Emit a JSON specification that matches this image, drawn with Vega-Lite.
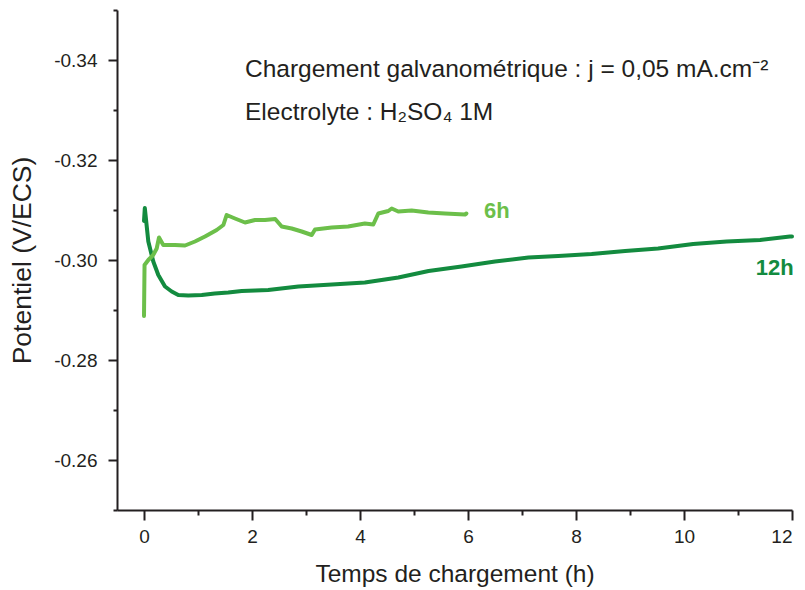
{
  "$schema": "https://vega.github.io/schema/vega-lite/v6.json",
  "width": 675,
  "height": 500,
  "autosize": {"type": "none"},
  "padding": {"left": 117, "top": 10, "right": 13, "bottom": 80},
  "background": "white",
  "config": {
    "view": {"stroke": null},
    "font": "Liberation Sans",
    "axis": {
      "grid": false,
      "domainColor": "#231f20",
      "domainWidth": 2,
      "tickColor": "#231f20",
      "tickWidth": 2,
      "labelFont": "Liberation Sans",
      "labelColor": "#231f20",
      "titleFont": "Liberation Sans",
      "titleFontWeight": "normal",
      "titleColor": "#231f20"
    }
  },
  "datasets": {
    "curves": [
      {"serie": "12h", "t": 0, "v": -0.3078},
      {"serie": "12h", "t": 0.015, "v": -0.3104},
      {"serie": "12h", "t": 0.08, "v": -0.3037},
      {"serie": "12h", "t": 0.172, "v": -0.2997},
      {"serie": "12h", "t": 0.265, "v": -0.297},
      {"serie": "12h", "t": 0.389, "v": -0.2947},
      {"serie": "12h", "t": 0.513, "v": -0.2937},
      {"serie": "12h", "t": 0.635, "v": -0.293},
      {"serie": "12h", "t": 0.82, "v": -0.2929},
      {"serie": "12h", "t": 1.07, "v": -0.293},
      {"serie": "12h", "t": 1.31, "v": -0.2933},
      {"serie": "12h", "t": 1.56, "v": -0.2935},
      {"serie": "12h", "t": 1.81, "v": -0.2938},
      {"serie": "12h", "t": 2.06, "v": -0.2939},
      {"serie": "12h", "t": 2.3, "v": -0.294},
      {"serie": "12h", "t": 2.86, "v": -0.2947},
      {"serie": "12h", "t": 3.48, "v": -0.2951},
      {"serie": "12h", "t": 4.09, "v": -0.2955},
      {"serie": "12h", "t": 4.71, "v": -0.2965},
      {"serie": "12h", "t": 5.27, "v": -0.2978},
      {"serie": "12h", "t": 5.88, "v": -0.2987},
      {"serie": "12h", "t": 6.5, "v": -0.2997},
      {"serie": "12h", "t": 7.12, "v": -0.3005},
      {"serie": "12h", "t": 7.67, "v": -0.3008},
      {"serie": "12h", "t": 8.29, "v": -0.3012},
      {"serie": "12h", "t": 8.91, "v": -0.3018},
      {"serie": "12h", "t": 9.52, "v": -0.3023},
      {"serie": "12h", "t": 10.17, "v": -0.3032},
      {"serie": "12h", "t": 10.79, "v": -0.3037},
      {"serie": "12h", "t": 11.41, "v": -0.304},
      {"serie": "12h", "t": 11.96, "v": -0.3047},
      {"serie": "12h", "t": 12.0, "v": -0.3047},
      {"serie": "6h", "t": 0, "v": -0.2888},
      {"serie": "6h", "t": 0.01, "v": -0.299},
      {"serie": "6h", "t": 0.08, "v": -0.3},
      {"serie": "6h", "t": 0.17, "v": -0.301},
      {"serie": "6h", "t": 0.235, "v": -0.3023},
      {"serie": "6h", "t": 0.278, "v": -0.3045},
      {"serie": "6h", "t": 0.357, "v": -0.303},
      {"serie": "6h", "t": 0.574, "v": -0.303},
      {"serie": "6h", "t": 0.76, "v": -0.3029},
      {"serie": "6h", "t": 0.944, "v": -0.3037},
      {"serie": "6h", "t": 1.13, "v": -0.3047},
      {"serie": "6h", "t": 1.346, "v": -0.306},
      {"serie": "6h", "t": 1.47, "v": -0.307},
      {"serie": "6h", "t": 1.53, "v": -0.309},
      {"serie": "6h", "t": 1.685, "v": -0.3083},
      {"serie": "6h", "t": 1.87, "v": -0.3075},
      {"serie": "6h", "t": 2.056, "v": -0.308},
      {"serie": "6h", "t": 2.24, "v": -0.308},
      {"serie": "6h", "t": 2.43, "v": -0.3082},
      {"serie": "6h", "t": 2.55, "v": -0.3067},
      {"serie": "6h", "t": 2.735, "v": -0.3063},
      {"serie": "6h", "t": 2.92, "v": -0.3057},
      {"serie": "6h", "t": 3.106, "v": -0.305},
      {"serie": "6h", "t": 3.167, "v": -0.3061},
      {"serie": "6h", "t": 3.476, "v": -0.3065},
      {"serie": "6h", "t": 3.78, "v": -0.3067},
      {"serie": "6h", "t": 4.09, "v": -0.3073},
      {"serie": "6h", "t": 4.246, "v": -0.3071},
      {"serie": "6h", "t": 4.339, "v": -0.3093},
      {"serie": "6h", "t": 4.524, "v": -0.3098},
      {"serie": "6h", "t": 4.587, "v": -0.3103},
      {"serie": "6h", "t": 4.709, "v": -0.3097},
      {"serie": "6h", "t": 4.957, "v": -0.3099},
      {"serie": "6h", "t": 5.265, "v": -0.3095},
      {"serie": "6h", "t": 5.574, "v": -0.3093},
      {"serie": "6h", "t": 5.944, "v": -0.3091},
      {"serie": "6h", "t": 5.97, "v": -0.3093}
    ],
    "notes": [
      {"t": 1.87, "v": -0.3366, "label": "Chargement galvanométrique : j = 0,05 mA.cm⁻²"},
      {"t": 1.87, "v": -0.328, "label": "Electrolyte : H₂SO₄ 1M"}
    ],
    "tags": [
      {"serie": "6h", "t": 6.296, "v": -0.3084},
      {"serie": "12h", "t": 11.33, "v": -0.297}
    ]
  },
  "encoding": {
    "x": {
      "field": "t",
      "type": "quantitative",
      "scale": {"domain": [-0.5, 12], "nice": false, "zero": false},
      "axis": {
        "title": "Temps de chargement (h)",
        "titleFontSize": 24.5,
        "labelFontSize": 19,
        "values": [0, 1, 2, 3, 4, 5, 6, 7, 8, 9, 10, 11, 12],
        "labelExpr": "datum.value % 2 == 0 ? datum.label : ''",
        "tickSize": {"condition": {"test": "datum.value % 2 == 0", "value": 10}, "value": 5},
        "labelPadding": 7,
        "titlePadding": 16
      }
    },
    "y": {
      "field": "v",
      "type": "quantitative",
      "scale": {"domain": [-0.35, -0.25], "reverse": true, "nice": false, "zero": false},
      "axis": {
        "title": "Potentiel (V/ECS)",
        "titleFontSize": 26.5,
        "labelFontSize": 19,
        "values": [-0.35, -0.34, -0.33, -0.32, -0.31, -0.3, -0.29, -0.28, -0.27, -0.26, -0.25],
        "labelExpr": "abs(round(datum.value * 100)) % 2 == 0 ? '-0.' + abs(round(datum.value * 100)) : ''",
        "tickSize": {"condition": {"test": "abs(round(datum.value * 100)) % 2 == 0", "value": 9}, "value": 4},
        "labelPadding": 11,
        "titlePadding": 17
      }
    }
  },
  "layer": [
    {
      "data": {"name": "curves"},
      "mark": {"type": "line", "strokeWidth": 4, "strokeJoin": "round", "strokeCap": "round"},
      "encoding": {
        "color": {
          "field": "serie",
          "type": "nominal",
          "scale": {"domain": ["6h", "12h"], "range": ["#6cbf4a", "#138b3f"]},
          "legend": null
        }
      }
    },
    {
      "data": {"name": "notes"},
      "mark": {"type": "text", "align": "left", "baseline": "alphabetic", "fontSize": 24.5, "font": "Liberation Sans", "color": "#231f20"},
      "encoding": {"text": {"field": "label", "type": "nominal"}}
    },
    {
      "data": {"name": "tags"},
      "mark": {"type": "text", "align": "left", "baseline": "alphabetic", "fontSize": 22, "fontWeight": "bold", "font": "Liberation Sans"},
      "encoding": {
        "text": {"field": "serie", "type": "nominal"},
        "color": {"field": "serie", "type": "nominal", "scale": {"domain": ["6h", "12h"], "range": ["#6cbf4a", "#138b3f"]}, "legend": null}
      }
    }
  ]
}
